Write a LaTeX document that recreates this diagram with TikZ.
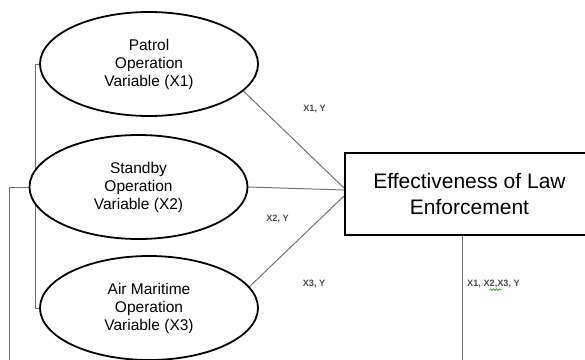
\documentclass[tikz,border=0pt]{standalone}
\usepackage{fontspec}
\setmainfont{Liberation Sans}
\usepackage{tikz}
\usetikzlibrary{shapes.geometric,backgrounds,decorations.pathmorphing}
\tikzstyle{var} = [ellipse, draw, fill=white, line width=1.8pt, minimum width=218pt, minimum height=104pt, inner sep=0pt, align=center, font=\fontsize{15.5}{18}\selectfont]
\tikzstyle{dep} = [rectangle, draw, fill=white, line width=2pt, minimum width=249pt, minimum height=82pt, inner sep=0pt, align=center, font=\fontsize{21}{25.5}\selectfont]
\tikzstyle{link} = [draw, black!55, line width=1pt]
\tikzstyle{pair} = [inner sep=0pt, text=black!70, font=\fontsize{9.2}{11}\selectfont\bfseries]

\begin{document}
\begin{tikzpicture}[x=1pt, y=-1pt]
	\useasboundingbox (0,0) rectangle (585,359);
	% variables
	\node[var] (pat) at (149,64) {Patrol\\Operation\\Variable (X1)};
	\node[var] (std) at (138.5,187) {Standby\\Operation\\Variable (X2)};
	\node[var] (air) at (149,308) {Air Maritime\\Operation\\Variable (X3)};
	\node[dep] (eff) at (469.5,194) {Effectiveness of Law\\Enforcement};
	\coordinate (low) at (9,362);
	\coordinate (foot) at (462,362);
	% labels
	\node[pair] (p1) at (314.5,109) {X1, Y};
	\node[pair] (p2) at (277.5,219) {X2, Y};
	\node[pair] (p3) at (314,284) {X3, Y};
	\node[pair] (p4) at (493.5,284) {X1, X2,X3, Y};
	\draw[green!60!black, line width=0.6pt, decorate, decoration={snake, amplitude=0.8pt, segment length=3pt}]
		([xshift=-4pt,yshift=-1.5pt]p4.south) -- ([xshift=8pt,yshift=-1.5pt]p4.south);
	\begin{pgfonlayer}{background}
		\draw[link] (pat.-16) -- ([yshift=6pt]eff.west);
		\draw[link] (std.east) -- ([yshift=4pt]eff.west);
		\draw[link] (air.12) -- ([yshift=-2pt]eff.west);
		\draw[link] (pat.west) -- ++(-4,0) |- (air.west);
		\draw[link] (std.west) -| (low);
		\draw[link] (eff.south -| foot) -- (foot);
	\end{pgfonlayer}
\end{tikzpicture}
\end{document}
